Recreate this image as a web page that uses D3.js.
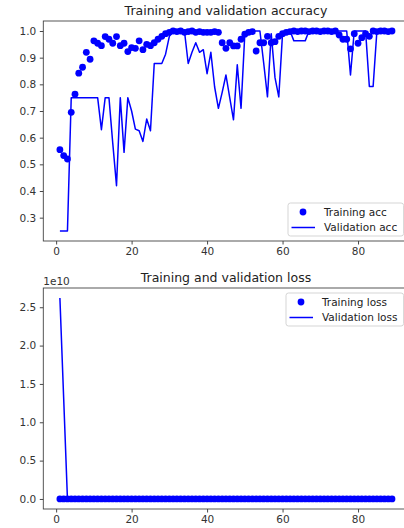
<!DOCTYPE html>
<html>
<head>
<meta charset="utf-8">
<script src="https://cdn.jsdelivr.net/npm/d3@7"></script>
<style>
  html, body { margin: 0; padding: 0; background: #fff; }
  svg { display: block; font-family: "DejaVu Sans", sans-serif; }
</style>
</head>
<body>
<svg id="chart" width="404" height="528"></svg>
<script>
// Per-epoch training history
const trainAcc = [
  0.555, 0.533, 0.52, 0.695, 0.763, 0.842, 0.864, 0.92, 0.894, 0.963,
  0.954, 0.945, 0.979, 0.969, 0.954, 0.979, 0.945, 0.954, 0.923, 0.938,
  0.935, 0.963, 0.93, 0.95, 0.945, 0.956, 0.969, 0.98, 0.99, 0.995,
  1.0, 0.998, 1.0, 0.995, 0.998, 1.0, 0.995, 0.998, 0.995, 0.995,
  0.995, 0.998, 0.995, 0.956, 0.935, 0.956, 0.944, 0.944, 0.969, 0.988,
  0.995, 0.998, 0.925, 0.956, 0.956, 0.98, 0.956, 0.96, 0.98, 0.99,
  0.995, 0.998, 1.0, 0.998, 1.0, 1.0, 0.998, 1.0, 1.0, 0.998,
  1.0, 1.0, 0.998, 1.0, 0.985, 0.969, 0.969, 0.933, 0.99, 0.954,
  0.975, 0.99, 0.98, 1.0, 0.998, 1.0, 1.0, 0.998, 1.0
];
const valAcc = [
  0.25, 0.25, 0.25, 0.75, 0.75, 0.75, 0.75, 0.75, 0.75, 0.75,
  0.75, 0.63, 0.75, 0.75, 0.58, 0.42, 0.75, 0.545, 0.75, 0.70,
  0.632, 0.626, 0.586, 0.67, 0.626, 0.878, 0.878, 0.878, 0.913, 0.98,
  1.0, 1.0, 1.0, 1.0, 0.878, 0.92, 0.956, 0.92, 0.93, 0.84,
  0.92, 0.79, 0.71, 0.77, 0.835, 0.75, 0.667, 0.873, 0.71, 0.99,
  1.0, 1.0, 1.0, 1.0, 0.88, 0.753, 0.99, 0.825, 0.753, 0.99,
  1.0, 1.0, 0.963, 0.963, 0.963, 0.963, 1.0, 1.0, 1.0, 1.0,
  1.0, 1.0, 1.0, 1.0, 1.0, 1.0, 1.0, 0.835, 1.0, 1.0,
  1.0, 1.0, 0.792, 0.792, 1.0, 1.0, 1.0, 1.0, 1.0
];
const trainLoss = [
  0.693, 0.690, 0.688, 0.612, 0.541, 0.402, 0.355, 0.236, 0.281, 0.118,
  0.132, 0.151, 0.072, 0.089, 0.121, 0.068, 0.142, 0.118, 0.187, 0.158,
  0.163, 0.101, 0.171, 0.128, 0.139, 0.112, 0.087, 0.061, 0.035, 0.021,
  0.012, 0.015, 0.009, 0.018, 0.011, 0.008, 0.016, 0.010, 0.014, 0.013,
  0.015, 0.009, 0.017, 0.112, 0.168, 0.109, 0.141, 0.139, 0.082, 0.037,
  0.019, 0.011, 0.183, 0.118, 0.115, 0.061, 0.121, 0.104, 0.056, 0.031,
  0.016, 0.010, 0.008, 0.007, 0.009, 0.006, 0.005, 0.006, 0.004, 0.005,
  0.007, 0.004, 0.006, 0.008, 0.042, 0.081, 0.079, 0.164, 0.033, 0.119,
  0.068, 0.029, 0.054, 0.009, 0.006, 0.005, 0.004, 0.005, 0.004
];
const valLoss = [
  2.62e10, 1.31e10, 0.693, 0.62, 0.58, 0.55, 0.53, 0.51, 0.52, 0.50,
  0.49, 0.71, 0.52, 0.50, 0.83, 1.42, 0.55, 1.05, 0.54, 0.66,
  0.88, 0.91, 1.02, 0.78, 0.92, 0.31, 0.30, 0.29, 0.22, 0.06,
  0.02, 0.01, 0.01, 0.02, 0.35, 0.21, 0.12, 0.22, 0.19, 0.48,
  0.23, 0.61, 0.92, 0.78, 0.51, 0.79, 1.12, 0.38, 0.95, 0.03,
  0.01, 0.01, 0.02, 0.01, 0.36, 0.81, 0.03, 0.52, 0.79, 0.02,
  0.01, 0.01, 0.09, 0.10, 0.08, 0.09, 0.01, 0.005, 0.004, 0.006,
  0.003, 0.004, 0.005, 0.003, 0.006, 0.008, 0.01, 0.46, 0.02, 0.01,
  0.01, 0.02, 0.71, 0.68, 0.01, 0.004, 0.003, 0.004, 0.003
];
const xTicks = [0, 20, 40, 60, 80];
const accTicks = [0.3, 0.4, 0.5, 0.6, 0.7, 0.8, 0.9, 1.0];
const lossTicks = [0, 0.5e10, 1.0e10, 1.5e10, 2.0e10, 2.5e10];

const epochs = trainAcc.map((_, i) => i + 1);
const BLUE = "#0000ff";
const svg = d3.select("#chart");

// matplotlib-style 5% margins around the data range
function padded(lo, hi) {
  const m = (hi - lo) * 0.05;
  return [lo - m, hi + m];
}

function panel(opts) {
  const { top, bottom, left, right, train, val, yTicks, yFmt, title, labels, offsetText } = opts;
  const x = d3.scaleLinear()
    .domain(padded(d3.min(epochs), d3.max(epochs)))
    .range([left, right]);
  const all = train.concat(val);
  const y = d3.scaleLinear()
    .domain(padded(d3.min(all), d3.max(all)))
    .range([bottom, top]);

  const g = svg.append("g");

  // series
  const line = d3.line().x((d, i) => x(epochs[i])).y(d => y(d));
  g.append("path")
    .datum(val)
    .attr("d", line)
    .attr("fill", "none")
    .attr("stroke", BLUE)
    .attr("stroke-width", 1.5)
    .attr("stroke-linejoin", "round");
  g.append("g").selectAll("circle")
    .data(train)
    .join("circle")
    .attr("cx", (d, i) => x(epochs[i]))
    .attr("cy", d => y(d))
    .attr("r", 3.4)
    .attr("fill", BLUE);

  // axes
  const xAxis = d3.axisBottom(x).tickValues(xTicks).tickSizeOuter(0).tickSize(3.5).tickPadding(3.5)
    .tickFormat(d3.format("d"));
  const yAxis = d3.axisLeft(y).tickValues(yTicks).tickSizeOuter(0).tickSize(3.5).tickPadding(3.5)
    .tickFormat(yFmt);
  const gx = g.append("g").attr("transform", `translate(0,${bottom})`).call(xAxis);
  const gy = g.append("g").attr("transform", `translate(${left},0)`).call(yAxis);
  [gx, gy].forEach(a => {
    a.select(".domain").remove();
    a.selectAll("line").attr("stroke", "#333").attr("stroke-width", 0.9);
    a.selectAll("text").attr("fill", "#333").style("font-size", "10.5px")
      .style("font-family", "'DejaVu Sans', sans-serif");
  });

  // frame
  g.append("rect")
    .attr("x", left).attr("y", top)
    .attr("width", right - left).attr("height", bottom - top)
    .attr("fill", "none").attr("stroke", "#444").attr("stroke-width", 0.9);

  // title
  g.append("text")
    .attr("x", (left + right) / 2).attr("y", top - 6)
    .attr("text-anchor", "middle")
    .attr("fill", "#222")
    .style("font-size", "12.5px")
    .text(title);

  if (offsetText) {
    g.append("text")
      .attr("x", left).attr("y", top - 3)
      .attr("fill", "#333")
      .style("font-size", "10.5px")
      .text(offsetText);
  }

  // legend
  const lg = g.append("g").attr("transform", `translate(${opts.legendX},${opts.legendY})`);
  lg.append("rect")
    .attr("x", 0).attr("y", 0).attr("width", opts.legendW).attr("height", 33)
    .attr("rx", 2.5)
    .attr("fill", "#fff").attr("fill-opacity", 0.8)
    .attr("stroke", "#d0d0d0").attr("stroke-width", 0.9);
  lg.append("circle").attr("cx", 15).attr("cy", 9).attr("r", 3.4).attr("fill", BLUE);
  lg.append("line").attr("x1", 3.5).attr("x2", 27).attr("y1", 24.5).attr("y2", 24.5)
    .attr("stroke", BLUE).attr("stroke-width", 1.5);
  lg.selectAll("text.lab")
    .data(labels)
    .join("text")
    .attr("class", "lab")
    .attr("x", 36)
    .attr("y", (d, i) => 9 + i * 15.5)
    .attr("dy", "0.35em")
    .attr("fill", "#222")
    .style("font-size", "10.5px")
    .text(d => d);
}

panel({
  top: 21, bottom: 241, left: 43.3, right: 408.6,
  train: trainAcc, val: valAcc,
  yTicks: accTicks, yFmt: d3.format(".1f"),
  title: "Training and validation accuracy",
  labels: ["Training acc", "Validation acc"],
  legendX: 288, legendY: 203, legendW: 115.6
});

panel({
  top: 288, bottom: 509, left: 43.3, right: 408.6,
  train: trainLoss, val: valLoss,
  yTicks: lossTicks, yFmt: d => (d / 1e10).toFixed(1),
  title: "Training and validation loss",
  labels: ["Training loss", "Validation loss"],
  offsetText: "1e10",
  legendX: 286, legendY: 293, legendW: 117.6
});
</script>
</body>
</html>
